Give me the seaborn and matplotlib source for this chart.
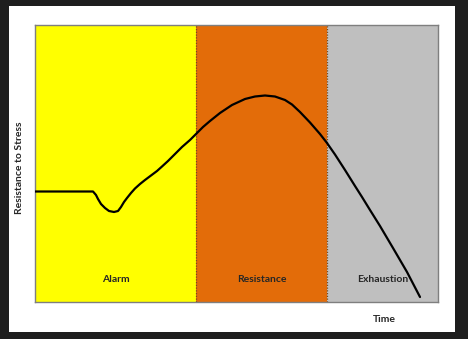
import matplotlib
matplotlib.use("Agg")
import matplotlib.pyplot as plt
import seaborn as sns
import pandas as pd

# Data (arbitrary units)
time = [0, 58, 61, 63, 66, 70, 74, 79, 83, 86, 89, 92, 96, 100, 105, 110, 116, 122,
        127, 133, 140, 147, 155, 161, 168, 175, 185, 197, 210, 220, 230, 240, 250,
        257, 265, 275, 285, 292, 300, 310, 320, 327, 335, 345, 358, 372, 385]
resistance = [110.5, 110.5, 107, 103, 98, 94, 91, 90, 91, 95, 100, 104, 109, 113.5,
              118, 122, 126.5, 131, 135.5, 141, 148, 155, 162, 168, 175, 181, 189, 197,
              203, 205.5, 206.5, 205.5, 202, 197.5, 190, 179.5, 168, 159, 147.5, 132,
              116, 105, 92, 76, 54, 30, 5]
phases = ["Alarm", "Resistance", "Exhaustion"]
phase_bounds = [0, 161, 292, 403]
phase_colors = ["#ffff00", "#e36c09", "#bfbfbf"]

sns.set_theme(style="white")
plt.rcParams['font.family'] = ['Lato', 'DejaVu Sans']

fig = plt.figure(figsize=(4.68, 3.39), dpi=100, facecolor="#1e1e1e")
# white panel
bg = fig.add_axes([9/468, 1 - 332/339, (455-9)/468, (332-6)/339])
bg.set_facecolor("white")
bg.set_xticks([]); bg.set_yticks([])
for s in bg.spines.values():
    s.set_visible(False)
bg.set_zorder(0)

ax = fig.add_axes([35/468, 1 - 302/339, (438-35)/468, (302-25)/339])
ax.set_zorder(2)

for i, name in enumerate(phases):
    ax.axvspan(phase_bounds[i], phase_bounds[i+1], color=phase_colors[i], lw=0, zorder=0)
    ax.text((phase_bounds[i] + phase_bounds[i+1]) / 2, 23, name, ha="center",
            va="center", fontsize=7.5, fontweight="bold", color="#262626")
for b in phase_bounds[1:-1]:
    ax.axvline(b, color="#7a4a1e", lw=0.9, ls=(0, (1, 1.2)), zorder=1)

df = pd.DataFrame({"Time": time, "Resistance": resistance})
sns.lineplot(data=df, x="Time", y="Resistance", ax=ax, color="black", lw=1.6,
             zorder=3, solid_joinstyle="round", solid_capstyle="round")

ax.set_xlim(0, 403)
ax.set_ylim(0, 277)
ax.set_xticks([])
ax.set_yticks([])
ax.set_xlabel("")
ax.set_ylabel("")
for s in ax.spines.values():
    s.set_color("#7f7f7f")
    s.set_linewidth(1)

fig.text(384/468, 1 - 320/339, "Time", ha="center", va="center", fontsize=7.5,
         fontweight="bold", color="#262626", zorder=5)
fig.text(20/468, 1 - 168/339, "Resistance to Stress", ha="center", va="center",
         fontsize=7.5, fontweight="bold", rotation=90, color="#262626", zorder=5)

fig.savefig("out.png", dpi=100, facecolor=fig.get_facecolor())
